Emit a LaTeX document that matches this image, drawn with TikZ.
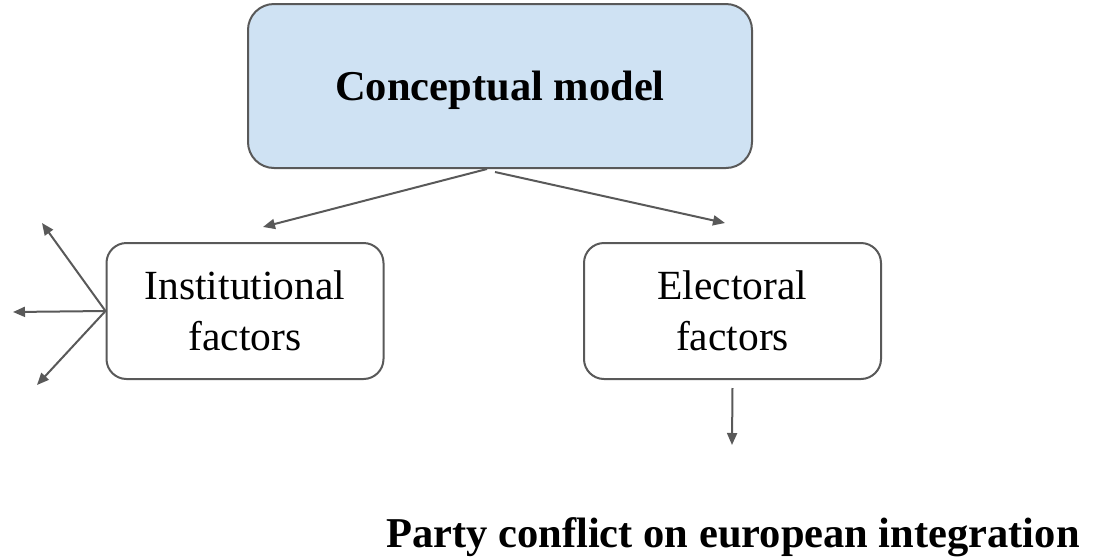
\documentclass[tikz,border=0pt]{standalone}
\usepackage{fontspec}
\setmainfont{Liberation Serif}
\usetikzlibrary{positioning,arrows.meta}
\definecolor{boxline}{HTML}{595959}
\definecolor{modelfill}{HTML}{CFE2F3}

\begin{document}
\begin{tikzpicture}[
x=0.5pt, y=-0.5pt,
box/.style={draw=boxline, line width=1pt, rounded corners=10pt, align=center, font=\fontsize{20.75}{25.5}\selectfont, inner sep=0pt, minimum height=68pt},
arr/.style={-{Triangle[length=6pt,width=5pt]}, draw=boxline, line width=1pt}
]
\useasboundingbox (0,0) rectangle (1094,558);
\node[box, fill=modelfill, rounded corners=13pt, minimum width=252pt, minimum height=82pt, text depth=0pt, font=\fontsize{21.25}{26}\selectfont\bfseries] (model) at (500,86) {Conceptual model};
\node[box, minimum width=138.5pt] (inst) at (245,311) {Institutional\\factors};
\node[box, minimum width=148.5pt] (elec) at (732.5,311) {Electoral\\factors};
\node[anchor=base, inner sep=0pt, font=\fontsize{21.25}{26}\selectfont\bfseries] (party) at (733,547) {Party conflict on european integration};
% free arrow ends
\coordinate (instin) at (263,227);
\coordinate (elecin) at (725,223);
\coordinate (instup) at (42,223);
\coordinate (instmid) at (13,312);
\coordinate (instlow) at (37,385);
\coordinate (elecout) at (732,445);
\draw[arr] ([xshift=-6.5pt]model.south) -- (instin);
\draw[arr] ([xshift=-2.5pt,yshift=-1.5pt]model.south) -- (elecin);
\draw[arr] (inst.west) -- (instup);
\draw[arr] (inst.west) -- (instmid);
\draw[arr] (inst.west) -- (instlow);
\draw[arr] ([yshift=-4pt]elec.south) -- (elecout);
\end{tikzpicture}
\end{document}
